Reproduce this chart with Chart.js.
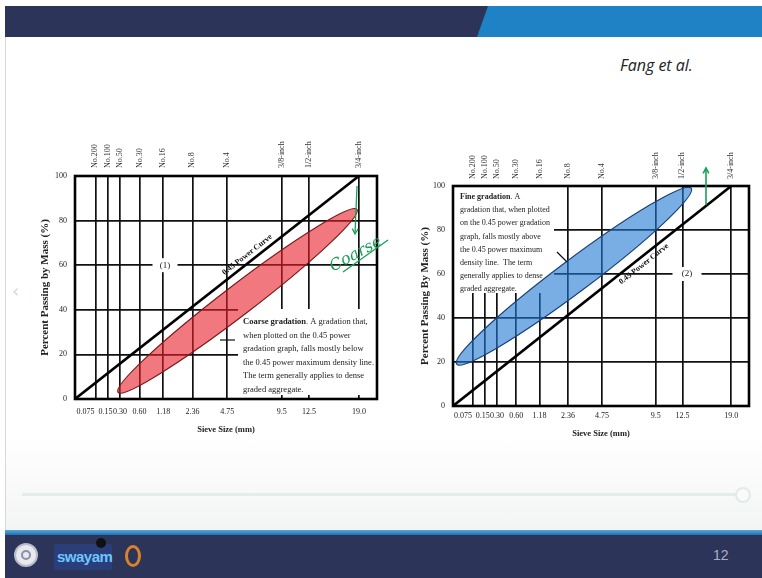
<!DOCTYPE html>
<html><head><meta charset="utf-8">
<script src="https://cdn.jsdelivr.net/npm/chart.js@4.4.0/dist/chart.umd.min.js"></script>
<style>
html,body{margin:0;padding:0;width:762px;height:578px;overflow:hidden;background:#fff;font-family:"Liberation Serif",serif;}
.abs{position:absolute;}
#topdark{left:5px;top:6px;width:757px;height:31px;background:#2c345a;}
#topblue{left:5px;top:6px;width:757px;height:31px;background:#1f82c4;clip-path:polygon(483px 0,100% 0,100% 100%,472px 100%);}
#slide{left:5px;top:37px;width:757px;height:493px;background:linear-gradient(#ffffff 0px,#ffffff 400px,#f3f4f4 493px);border-left:1px solid #d8d8d8;}
#fang{left:620px;top:54px;font-family:"Liberation Sans Narrow","Open Sans",sans-serif;font-style:italic;font-size:16px;color:#222;}
#prog{left:22px;top:493px;width:714px;height:3px;background:#e3eeea;}
#knob{left:735px;top:487px;width:12px;height:12px;border-radius:50%;border:2px solid #e0ebe7;background:#fafafa;}
#botblue{left:5px;top:530px;width:757px;height:5px;background:linear-gradient(#5aa6de,#1f6fb0);}
#botdark{left:5px;top:535px;width:757px;height:43px;background:#2c345a;}
#c1{left:30px;top:100px;}
#c2{left:410px;top:105px;}
</style></head><body>
<div id="slide" class="abs"></div>
<div id="topdark" class="abs"></div>
<div id="topblue" class="abs"></div>
<div id="fang" class="abs">Fang et al.</div>
<div class="abs" style="left:12px;top:280px;color:#d6d6d6;font-family:'DejaVu Sans';font-size:18px;">‹</div>
<div id="prog" class="abs"></div>
<div id="knob" class="abs"></div>
<div id="botblue" class="abs"></div>
<div id="botdark" class="abs"></div>
<div class="abs" style="left:14px;top:543px;width:24px;height:24px;border-radius:50%;background:#e8e8ee;border:2px solid #b8bcc8;box-sizing:border-box;"></div>
<div class="abs" style="left:21px;top:550px;width:10px;height:10px;border-radius:50%;border:2px solid #8a90a8;box-sizing:border-box;"></div>
<div class="abs" style="left:54px;top:544px;width:58px;height:26px;background:#2a3f7a;border-radius:2px;"></div>
<div class="abs" style="left:57px;top:548px;font-family:'Liberation Sans',sans-serif;font-weight:bold;font-size:15px;color:#6ec6ff;letter-spacing:-0.5px;">swayam</div>
<div class="abs" style="left:96px;top:538px;width:10px;height:10px;border-radius:50%;background:#111;"></div>
<div class="abs" style="left:125px;top:545px;width:16px;height:22px;border-radius:50%;border:3px solid #d9822b;box-sizing:border-box;"></div>
<div class="abs" style="left:713px;top:547px;font-family:'Liberation Sans',sans-serif;font-size:14px;color:#aab0c4;">12</div>
<canvas id="c1" class="abs" width="360" height="345"></canvas>
<canvas id="c2" class="abs" width="350" height="345"></canvas>
<script>
// ---- data ----
// sieve sizes (mm) and their positions on the 0.45-power x axis
const sieveSizes = [0.075, 0.15, 0.30, 0.60, 1.18, 2.36, 4.75, 9.5, 12.5, 19.0];
const sieveAxisPos = [0.27, 0.43, 0.595, 0.855, 1.17, 1.555, 2.015, 2.74, 3.10, 3.76];
const sieveSizeLabels = ['0.075', '0.15', '0.30', '0.60', '1.18', '2.36', '4.75', '9.5', '12.5', '19.0'];
const sieveNames = ['No.200', 'No.100', 'No.50', 'No.30', 'No.16', 'No.8', 'No.4', '3/8-inch', '1/2-inch', '3/4-inch'];
const percentTicks = [0, 20, 40, 60, 80, 100];
// 0.45 power maximum density line: (axis position, % passing)
const powerCurvePos = [0, 3.76];
const powerCurvePercent = [0, 100];
// gradation bands: long-axis end points (axis position, % passing)
const coarseBandPos = [0.57, 3.735];
const coarseBandPercent = [3, 85];
const fineBandPos = [0.05, 3.22];
const fineBandPercent = [19, 99];
const coarseText = ['Coarse gradation', '. A gradation that,', 'when plotted on the 0.45 power', 'gradation graph, falls mostly below', 'the 0.45 power maximum density line.', 'The term generally applies to dense', 'graded aggregate.'];
const fineText = ['Fine gradation', '. A', 'gradation that, when plotted', 'on the 0.45 power gradation', 'graph, falls mostly above', 'the 0.45 power maximum', 'density line.  The term', 'generally applies to dense', 'graded aggregate.'];

const SERIF = '"Liberation Serif", "Times New Roman", serif';
const FS = '\u2007';

function drawBoxText(ctx, lines, x, y0, lh, size) {
  ctx.fillStyle = '#222';
  ctx.textBaseline = 'middle';
  ctx.textAlign = 'left';
  ctx.font = 'bold ' + size + 'px ' + SERIF;
  ctx.fillText(lines[0], x, y0);
  const w = ctx.measureText(lines[0]).width;
  ctx.font = size + 'px ' + SERIF;
  ctx.fillText(lines[1], x + w, y0);
  for (let i = 2; i < lines.length; i++) ctx.fillText(lines[i], x, y0 + lh * (i - 1));
}

function arrow(ctx, x1, y1, x2, y2) {
  ctx.beginPath(); ctx.moveTo(x1, y1); ctx.lineTo(x2, y2); ctx.stroke();
  const a = Math.atan2(y2 - y1, x2 - x1);
  ctx.beginPath();
  ctx.moveTo(x2 - 6 * Math.cos(a - 0.5), y2 - 6 * Math.sin(a - 0.5));
  ctx.lineTo(x2, y2);
  ctx.lineTo(x2 - 6 * Math.cos(a + 0.5), y2 - 6 * Math.sin(a + 0.5));
  ctx.stroke();
}

function makePlugin(o) {
  return {
    id: 'bands',
    beforeDatasetsDraw(chart) {
      const {ctx, chartArea: ca, scales: {x, y}} = chart;
      ctx.save();
      ctx.fillStyle = '#fff';
      const b = o.whiteBox;
      ctx.fillRect(ca.left + b[0], ca.top + b[1], b[2], b[3]);
      const y60 = y.getPixelForValue(60);
      ctx.fillRect(ca.left + o.regionX - o.gapW / 2, y60 - 7, o.gapW, 14);
      const x1 = x.getPixelForValue(o.bandPos[0]), y1 = y.getPixelForValue(o.bandPct[0]);
      const x2 = x.getPixelForValue(o.bandPos[1]), y2 = y.getPixelForValue(o.bandPct[1]);
      const cx = (x1 + x2) / 2, cy = (y1 + y2) / 2;
      const a = Math.hypot(x2 - x1, y2 - y1) / 2;
      const ang = Math.atan2(y2 - y1, x2 - x1);
      ctx.beginPath();
      ctx.ellipse(cx, cy, a, a * o.ratio, ang, 0, 2 * Math.PI);
      ctx.fillStyle = o.fill; ctx.fill();
      ctx.lineWidth = 1.2; ctx.strokeStyle = o.stroke; ctx.stroke();
      ctx.restore();
    },
    afterDatasetsDraw(chart) {
      const {ctx, chartArea: ca, scales: {x, y}} = chart;
      ctx.save();
      ctx.strokeStyle = '#000'; ctx.lineWidth = 2.6;
      ctx.strokeRect(ca.left, ca.top, ca.right - ca.left, ca.bottom - ca.top);
      ctx.fillStyle = '#222'; ctx.font = '9px ' + SERIF; ctx.textAlign = 'center'; ctx.textBaseline = 'middle';
      ctx.fillText(o.regionLabel, ca.left + o.regionX, y.getPixelForValue(60));
      // power curve label, along the line
      const lx0 = x.getPixelForValue(powerCurvePos[0]), ly0 = y.getPixelForValue(powerCurvePercent[0]);
      const lx1 = x.getPixelForValue(powerCurvePos[1]), ly1 = y.getPixelForValue(powerCurvePercent[1]);
      const t = o.curveLabelPos / powerCurvePos[1];
      const px = lx0 + (lx1 - lx0) * t, py = ly0 + (ly1 - ly0) * t;
      const ang = Math.atan2(ly1 - ly0, lx1 - lx0);
      ctx.translate(px - o.curveLabelOff * Math.sin(ang), py + o.curveLabelOff * Math.cos(ang));
      ctx.rotate(ang);
      ctx.font = 'bold 8px ' + SERIF; ctx.fillStyle = '#111';
      ctx.fillText('0.45 Power Curve', 0, 0);
      ctx.setTransform(1, 0, 0, 1, 0, 0);
      drawBoxText(ctx, o.text, ca.left + o.textX, ca.top + o.textY, o.textLH, o.textSize);
      ctx.strokeStyle = '#111'; ctx.lineWidth = 1.2;
      ctx.beginPath(); ctx.moveTo(ca.left + o.pointer[0], ca.top + o.pointer[1]); ctx.lineTo(ca.left + o.pointer[2], ca.top + o.pointer[3]); ctx.stroke();
      o.annot(ctx, ca);
      ctx.restore();
    }
  };
}

function bottomLabel(i) {
  const s = sieveSizeLabels[i];
  if (i === 0) return s + FS.repeat(5);
  if (i === 1) return s + FS;
  return s;
}

function makeChart(id, o) {
  return new Chart(document.getElementById(id), {
    type: 'scatter',
    data: {
      datasets: [{
        data: powerCurvePos.map((p, i) => ({x: p, y: powerCurvePercent[i]})),
        showLine: true, borderColor: '#000', borderWidth: 2.6, pointRadius: 0, fill: false
      }]
    },
    options: {
      responsive: false, animation: false,
      layout: {padding: {left: 0, right: o.padRight, top: 0, bottom: 0}},
      plugins: {legend: {display: false}, tooltip: {enabled: false}},
      scales: {
        x: {
          type: 'linear', position: 'bottom', min: 0, max: 4,
          afterBuildTicks: s => { s.ticks = sieveAxisPos.map(v => ({value: v})); },
          afterFit: s => { s.height = o.bottomH; },
          ticks: {autoSkip: false, minRotation: 0, maxRotation: 0, padding: o.xPad, color: '#222',
                  font: {family: SERIF, size: 8}, callback: (v, i) => bottomLabel(i)},
          grid: {color: '#111', lineWidth: 1.7, drawTicks: false},
          border: {display: false},
          title: {display: true, text: 'Sieve Size (mm)', color: '#222', font: {family: SERIF, size: 8.5, weight: 'bold'},
                  padding: {top: 0, bottom: o.xTitlePad}}
        },
        x2: {
          type: 'linear', position: 'top', min: 0, max: 4,
          afterBuildTicks: s => { s.ticks = sieveAxisPos.map(v => ({value: v})); },
          afterFit: s => { s.height = o.topH; },
          ticks: {autoSkip: false, minRotation: 90, maxRotation: 90, padding: o.topPad, labelOffset: 9.6, color: '#333',
                  font: {family: SERIF, size: 8}, callback: (v, i) => sieveNames[i]},
          grid: {display: false, drawTicks: false},
          border: {display: false}
        },
        y: {
          min: 0, max: 100,
          afterBuildTicks: s => { s.ticks = percentTicks.map(v => ({value: v})); },
          afterFit: s => { s.width = o.leftW; },
          ticks: {padding: 8, color: '#222', font: {family: SERIF, size: 8}},
          grid: {color: '#111', lineWidth: 1.7, drawTicks: false},
          border: {display: false},
          title: {display: true, text: o.yTitle, color: '#222', font: {family: SERIF, size: 11, weight: 'bold'},
                  padding: {top: o.yTitlePad, bottom: 0}}
        }
      }
    },
    plugins: [makePlugin(o)]
  });
}

const GREEN = '#17a05a';
makeChart('c1', {
  padRight: 13, bottomH: 46, topH: 76, leftW: 45, xPad: 8, topPad: 8, xTitlePad: 10, yTitlePad: 9,
  yTitle: 'Percent Passing by Mass (%)',
  bandPos: coarseBandPos, bandPct: coarseBandPercent, ratio: 0.1,
  fill: 'rgba(232,30,40,0.6)', stroke: '#7a1a1a',
  whiteBox: [163, 133, 140, 86],
  regionLabel: '(1)', regionX: 90, gapW: 25,
  curveLabelPos: 2.34, curveLabelOff: -7,
  text: coarseText, textX: 168, textY: 146, textLH: 13.5, textSize: 8.5,
  pointer: [145, 164, 160, 164],
  annot: (ctx, ca) => {
    ctx.strokeStyle = GREEN; ctx.fillStyle = GREEN; ctx.lineWidth = 1.3;
    arrow(ctx, ca.left + 282, ca.top + 10, ca.left + 280, ca.top + 58);
    ctx.save();
    ctx.translate(ca.left + 256, ca.top + 92); ctx.rotate(-0.5);
    ctx.font = 'italic 16px "DejaVu Serif", serif';
    ctx.fillText('Coarse', 0, 0);
    ctx.restore();
    ctx.beginPath(); ctx.moveTo(ca.left + 268, ca.top + 96); ctx.lineTo(ca.left + 313, ca.top + 64); ctx.stroke();
  }
});
makeChart('c2', {
  padRight: 11, bottomH: 44, topH: 81, leftW: 43, xPad: 5, topPad: 7, xTitlePad: 11, yTitlePad: 9,
  yTitle: 'Percent Passing By Mass (%)',
  bandPos: fineBandPos, bandPct: fineBandPercent, ratio: 0.11,
  fill: 'rgba(30,120,210,0.6)', stroke: '#1a3f7a',
  whiteBox: [1, 1, 100, 106],
  regionLabel: '(2)', regionX: 234, gapW: 29,
  curveLabelPos: 2.52, curveLabelOff: 7,
  text: fineText, textX: 7, textY: 11, textLH: 13.2, textSize: 8,
  pointer: [104, 66, 114, 76],
  annot: (ctx, ca) => {
    ctx.strokeStyle = GREEN; ctx.lineWidth = 1.6;
    arrow(ctx, ca.left + 253, ca.top + 19, ca.left + 253, ca.top - 18);
  }
});
</script>
</body></html>
